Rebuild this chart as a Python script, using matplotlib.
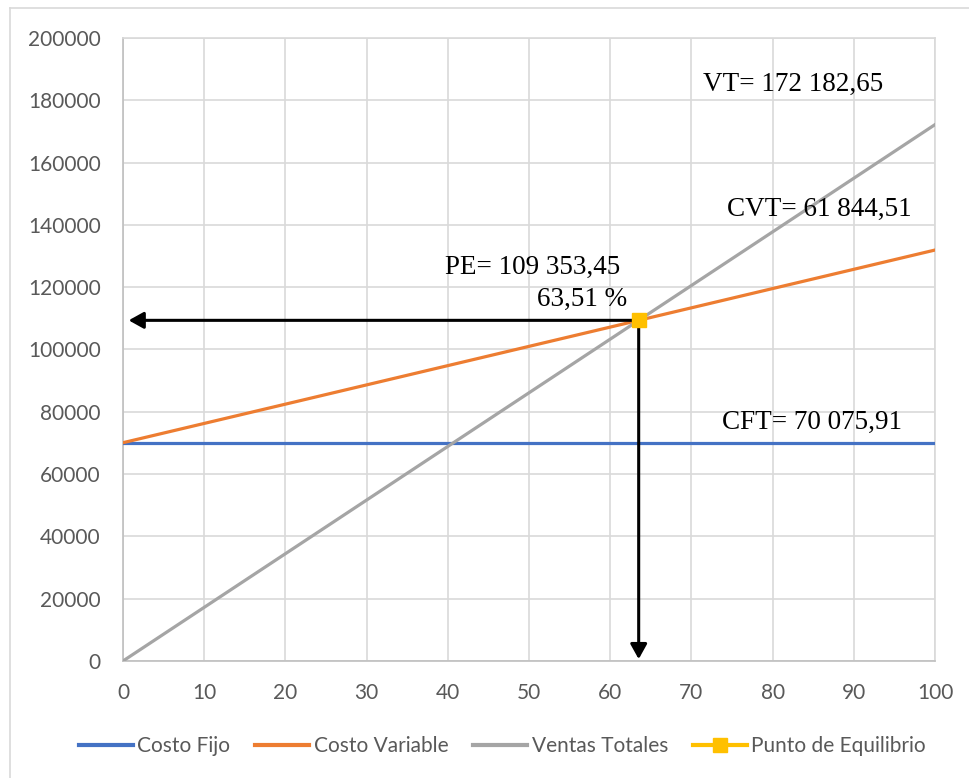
import matplotlib.pyplot as plt
from matplotlib.lines import Line2D

# -----------------------------------
# DATA
# -----------------------------------

pct = [0, 100]
costo_fijo = [70075.91, 70075.91]
costo_variable = [70075.91, 131920.42]
ventas_totales = [0, 172182.65]

pe_x = [63.51]
pe_y = [109353.45]

x_ticks = [0, 10, 20, 30, 40, 50, 60, 70, 80, 90, 100]
y_ticks = [0, 20000, 40000, 60000, 80000, 100000, 120000, 140000, 160000, 180000, 200000]

# -----------------------------------
# FIGURE
# -----------------------------------

fig = plt.figure(figsize=(9.7, 7.78), dpi=100)
ax = fig.add_axes([0.1268, 0.1504, 0.8371, 0.8008])

# outer chart frame
fig.add_artist(Line2D([10 / 970, 10 / 970], [0, 1 - 8 / 778], color="#D9D9D9", lw=1.2))
fig.add_artist(Line2D([10 / 970, 1], [1 - 8 / 778, 1 - 8 / 778], color="#D9D9D9", lw=1.2))

ax.plot(pct, costo_fijo, color="#4472C4", lw=2.3, label="Costo Fijo", zorder=3)
ax.plot(pct, costo_variable, color="#ED7D31", lw=2.3, label="Costo Variable", zorder=3)
ax.plot(pct, ventas_totales, color="#A5A5A5", lw=2.3, label="Ventas Totales", zorder=3)
ax.plot(pe_x, pe_y, color="#FFC000", lw=2.3, marker="s", markersize=10,
        label="Punto de Equilibrio", zorder=6)

# arrows from the break-even point to both axes
arrow = dict(arrowstyle="-|>,head_length=0.9,head_width=0.5",
             color="black", lw=2.2, shrinkA=0, shrinkB=0)
ax.annotate("", xy=(0.7, pe_y[0]), xytext=(pe_x[0], pe_y[0]), arrowprops=arrow, zorder=5)
ax.annotate("", xy=(pe_x[0], 600), xytext=(pe_x[0], pe_y[0]), arrowprops=arrow, zorder=5)

# value labels
serif = "Liberation Serif"
fs = 19.5
ax.text(71.4, 185200, "VT= 172 182,65", family=serif, fontsize=fs, va="center", ha="left")
ax.text(74.4, 145100, "CVT= 61 844,51", family=serif, fontsize=fs, va="center", ha="left")
ax.text(73.8, 76700, "CFT= 70 075,91", family=serif, fontsize=fs, va="center", ha="left")
ax.text(39.7, 126200, "PE= 109 353,45", family=serif, fontsize=fs, va="center", ha="left")
ax.text(62.1, 116200, "63,51 %", family=serif, fontsize=fs, va="center", ha="right")

# -----------------------------------
# AXES STYLE
# -----------------------------------

ax.set_xlim(0, 100)
ax.set_ylim(0, 200000)
ax.set_xticks(x_ticks)
ax.set_yticks(y_ticks)
ax.grid(True, color="#D9D9D9", lw=1.2, zorder=0)
ax.set_axisbelow(True)
for side in ["top", "right"]:
    ax.spines[side].set_color("#D9D9D9")
    ax.spines[side].set_linewidth(1.2)
for side in ["left", "bottom"]:
    ax.spines[side].set_color("#BFBFBF")
    ax.spines[side].set_linewidth(1.2)
ax.tick_params(length=0, labelsize=15, labelcolor="#595959", pad=16)
for lbl in ax.get_xticklabels() + ax.get_yticklabels():
    lbl.set_family("Lato")

leg = fig.legend(loc="center", bbox_to_anchor=(0.518, 1 - 746 / 778), ncol=4,
                 frameon=False, handlelength=2.6, handletextpad=0.2,
                 columnspacing=1.2, prop={"family": "Lato", "size": 15})
for t in leg.get_texts():
    t.set_color("#595959")
for h in leg.legend_handles:
    h.set_linewidth(3)

fig.savefig("out.png", dpi=100)
